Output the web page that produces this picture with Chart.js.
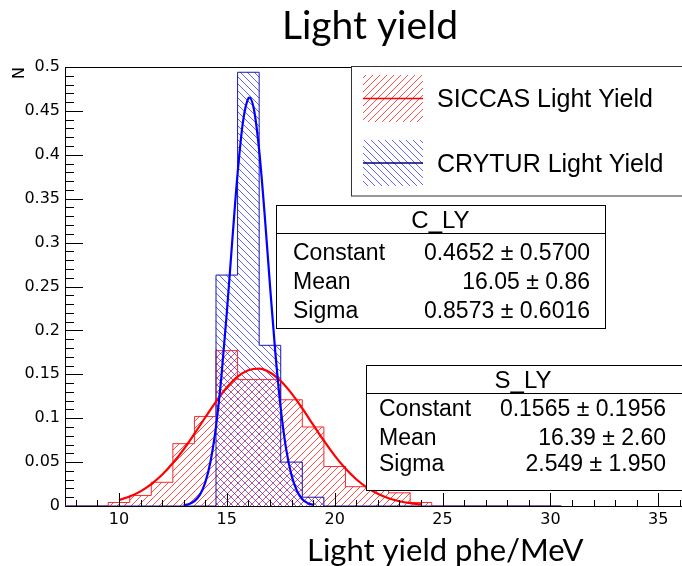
<!DOCTYPE html>
<html><head><meta charset="utf-8">
<script src="https://cdn.jsdelivr.net/npm/chart.js@4.4.0/dist/chart.umd.min.js"></script>
<style>html,body{margin:0;padding:0;background:#fff;overflow:hidden}#wrap{width:682px;height:566px;position:relative;overflow:hidden}</style>
</head><body><div id="wrap"><canvas id="c" width="682" height="566"></canvas></div>
<script>
// ---- data ----
const sBinCenters = [10,11,12,13,14,15,16,17,18,19,20,21,22,23,24];
const sValues     = [0.004,0.012,0.027,0.071,0.102,0.177,0.144,0.144,0.121,0.090,0.045,0.022,0.022,0.015,0.004];
const cBinCenters = [15,16,17,18,19];
const cValues     = [0.263,0.494,0.183,0.050,0.010];
const histRange   = [0.5, 30.5];
const sFitX = [10,10.5,11,11.5,12,12.5,13,13.5,14,14.5,15,15.5,16,16.5,17,17.5,18,18.5,19,19.5,20,20.5,21,21.5,22,22.5,23,23.5,24];
const sFitY = [0.0068,0.0109,0.0167,0.0249,0.0355,0.0489,0.0646,0.0823,0.1008,0.1189,0.1349,0.1473,0.1547,0.1564,0.1521,0.1423,0.1282,0.1111,0.0926,0.0744,0.0574,0.0427,0.0305,0.0210,0.0139,0.0088,0.0054,0.0032,0.0018];
const cFitX = [13,13.25,13.5,13.75,14,14.25,14.5,14.75,15,15.25,15.5,15.75,16,16.05,16.25,16.5,16.75,17,17.25,17.5,17.75,18,18.25,18.5,18.75,19];
const cFitY = [0.0008,0.0023,0.0056,0.0127,0.0267,0.0513,0.0908,0.1473,0.2198,0.3010,0.3787,0.4376,0.4644,0.4652,0.4527,0.4053,0.3334,0.2518,0.1746,0.1113,0.0651,0.0350,0.0173,0.0078,0.0033,0.0013];
const xTicks = [10,15,20,25,30,35];
const yTicks = [0,0.05,0.1,0.15,0.2,0.25,0.3,0.35,0.4,0.45,0.5];
const legendLabels = ['SICCAS Light Yield','CRYTUR Light Yield'];
const cStatsTitle = 'C_LY';
const cStats = [['Constant','0.4652 \u00b1 0.5700'],['Mean','16.05 \u00b1 0.86'],['Sigma','0.8573 \u00b1 0.6016']];
const sStatsTitle = 'S_LY';
const sStats = [['Constant','0.1565 \u00b1 0.1956'],['Mean','16.39 \u00b1 2.60'],['Sigma','2.549 \u00b1 1.950']];
const chartTitle = 'Light yield';
const xTitle = 'Light yield phe/MeV';
const yTitle = 'N';

// ---- helpers ----
const canvas = document.getElementById('c');
const ctx = canvas.getContext('2d');
function hatch(color, dir){
  const s = 7;
  const c = document.createElement('canvas'); c.width = s; c.height = s;
  const g = c.getContext('2d');
  g.strokeStyle = color; g.lineWidth = 1;
  g.beginPath();
  if (dir > 0){
    g.moveTo(-1, s+1); g.lineTo(s+1, -1);
    g.moveTo(-1, 1); g.lineTo(1, -1);
    g.moveTo(s-1, s+1); g.lineTo(s+1, s-1);
  } else {
    g.moveTo(-1, -1); g.lineTo(s+1, s+1);
    g.moveTo(s-1, -1); g.lineTo(s+1, 1);
    g.moveTo(-1, s-1); g.lineTo(1, s+1);
  }
  g.stroke();
  return ctx.createPattern(c, 'repeat');
}
const redHatch = hatch('rgba(255,0,0,0.7)', 1);
const blueHatch = hatch('rgba(0,0,255,0.6)', -1);
const RED_LINE = '#ff2a2a', BLUE_LINE = '#1a1ab0';

function bars(centers, vals){ return centers.map((c,i)=>({x:c, y:vals[i]})); }
function steps(centers, vals){
  const pts = [{x:histRange[0], y:0}];
  centers.forEach((c,i)=>pts.push({x:c-0.5, y:vals[i]}));
  pts.push({x:centers[centers.length-1]+0.5, y:0});
  pts.push({x:histRange[1], y:0});
  return pts;
}
function curve(xs, ys){ return xs.map((x,i)=>({x, y:ys[i]})); }

const FONT = "'Liberation Sans', Arial, Helvetica, sans-serif";
const TICKFONT = "'DejaVu Sans', sans-serif";
const TFONT = "Lato, 'Open Sans', sans-serif";

const deco = {
  id: 'deco',
  beforeDraw(chart){
    const c = chart.ctx; c.save(); c.fillStyle = '#fff'; c.fillRect(0,0,chart.width,chart.height); c.restore();
  },
  beforeDatasetsDraw(chart){
    const c = chart.ctx, a = chart.chartArea;
    c.save(); c.strokeStyle = '#000'; c.lineWidth = 1;
    c.strokeRect(Math.round(a.left)+0.5, Math.round(a.top)+0.5, Math.round(a.right-a.left)+4, Math.round(a.bottom-a.top));
    c.restore();
  },
  afterDatasetsDraw(chart){
    const c = chart.ctx, a = chart.chartArea, xs = chart.scales.x, ys = chart.scales.y;
    c.save(); c.strokeStyle = '#000'; c.lineWidth = 1; c.beginPath();
    for (let v = 8; v <= 36; v++){
      const px = Math.round(xs.getPixelForValue(v)) + 0.5;
      const len = (v % 5 === 0) ? 13 : 6;
      c.moveTo(px, a.bottom); c.lineTo(px, a.bottom - len);
    }
    for (let k = 0; k <= 50; k++){
      const py = Math.round(ys.getPixelForValue(k/100)) + 0.5;
      const len = (k % 5 === 0) ? 18 : 9;
      c.moveTo(a.left, py); c.lineTo(a.left + len, py);
    }
    c.stroke(); c.restore();
  },
  afterDraw(chart){
    const c = chart.ctx;
    c.save();
    // titles
    c.fillStyle = '#000';
    c.font = '39px ' + TFONT; c.textAlign = 'center'; c.textBaseline = 'alphabetic';
    c.fillText(chartTitle, 370, 39);
    c.font = '31px ' + TFONT; c.textAlign = 'left';
    c.fillText(xTitle, 307, 561);
    c.save(); c.translate(24, 67); c.rotate(-Math.PI/2);
    c.font = '16px ' + TICKFONT; c.textAlign = 'right'; c.fillText(yTitle, 0, 0); c.restore();

    // legend
    c.fillStyle = '#fff'; c.fillRect(351.5, 66.5, 340, 129.5);
    c.strokeStyle = '#333'; c.lineWidth = 1; c.strokeRect(351.5, 66.5, 340, 129.5);
    const ent = [{pat:redHatch, col:'#ff0000', y0:75, y1:122, base:107},{pat:blueHatch, col:'#000080', y0:140, y1:186, base:172}];
    ent.forEach((e,i)=>{
      c.fillStyle = e.pat; c.fillRect(363, e.y0, 60, e.y1-e.y0);
      c.strokeStyle = e.col; c.lineWidth = 1.5; c.beginPath();
      const my = (e.y0+e.y1)/2; c.moveTo(363, my); c.lineTo(423, my); c.stroke();
      c.fillStyle = '#000'; c.font = '25px ' + FONT; c.textAlign = 'left';
      c.fillText(legendLabels[i], 437, e.base);
    });

    // stat boxes
    function statBox(x0,y0,x1,y1,div,title,titleX,titleBase,rows,labX,valX,bases){
      c.fillStyle = '#fff'; c.fillRect(x0,y0,x1-x0,y1-y0);
      c.strokeStyle = '#000'; c.lineWidth = 1; c.strokeRect(x0,y0,x1-x0,y1-y0);
      c.beginPath(); c.moveTo(x0,div); c.lineTo(x1,div); c.stroke();
      c.fillStyle = '#000';
      c.font = '24px ' + FONT; c.textAlign = 'center'; c.fillText(title, titleX, titleBase);
      c.font = '23px ' + FONT;
      rows.forEach((r,i)=>{
        c.textAlign = 'left'; c.fillText(r[0], labX, bases[i]);
        c.textAlign = 'right'; c.fillText(r[1], valX, bases[i]);
      });
    }
    statBox(276.5,205.5,605.5,328.5,233.5,cStatsTitle,440.5,228,cStats,293,590,[260,289,318]);
    statBox(366.5,365.5,700,490.5,393.5,sStatsTitle,523,388,sStats,379,666,[416,445,471]);
    c.restore();
  }
};

new Chart(canvas, {
  type: 'bar',
  data: {
    datasets: [
      {type:'line', label:'cfit', data: curve(cFitX,cFitY), borderColor:'#0000ff', borderWidth:2.2, pointRadius:0, cubicInterpolationMode:'monotone', fill:false, order:1},
      {type:'line', label:'sfit', data: curve(sFitX,sFitY), borderColor:'#ff0000', borderWidth:2.2, pointRadius:0, cubicInterpolationMode:'monotone', fill:false, order:2},
      {type:'line', label:'cline', data: steps(cBinCenters,cValues), borderColor:BLUE_LINE, borderWidth:1, pointRadius:0, stepped:true, fill:false, order:3},
      {type:'line', label:'sline', data: steps(sBinCenters,sValues), borderColor:RED_LINE, borderWidth:1, pointRadius:0, stepped:true, fill:false, order:4},
      {type:'bar', label:legendLabels[1], data: bars(cBinCenters,cValues), backgroundColor:blueHatch, borderWidth:0, grouped:false, categoryPercentage:1, barPercentage:1, order:5},
      {type:'bar', label:legendLabels[0], data: bars(sBinCenters,sValues), backgroundColor:redHatch, borderWidth:0, grouped:false, categoryPercentage:1, barPercentage:1, order:6}
    ]
  },
  options: {
    responsive:false, animation:false, devicePixelRatio:1,
    layout:{padding:{top:67,left:0,right:0,bottom:0}},
    plugins:{legend:{display:false}, tooltip:{enabled:false}, title:{display:false}},
    scales:{
      x:{type:'linear', offset:false, min:7.5, max:36.1,
         grid:{display:false, drawTicks:false}, border:{display:false},
         afterBuildTicks(s){ s.ticks = xTicks.map(v=>({value:v})); },
         afterFit(s){ s.height = 60; },
         ticks:{autoSkip:false, maxRotation:0, padding:4, color:'#000', font:{family:TICKFONT, size:16}, callback:(v)=>String(v)}},
      y:{type:'linear', min:0, max:0.5,
         grid:{display:false, drawTicks:false}, border:{display:false},
         afterBuildTicks(s){ s.ticks = yTicks.map(v=>({value:v})); },
         afterFit(s){ s.width = 65; },
         ticks:{autoSkip:false, padding:5, color:'#000', font:{family:TICKFONT, size:16}, callback:(v)=>String(v)}}
    }
  },
  plugins:[deco]
});
</script></body></html>
